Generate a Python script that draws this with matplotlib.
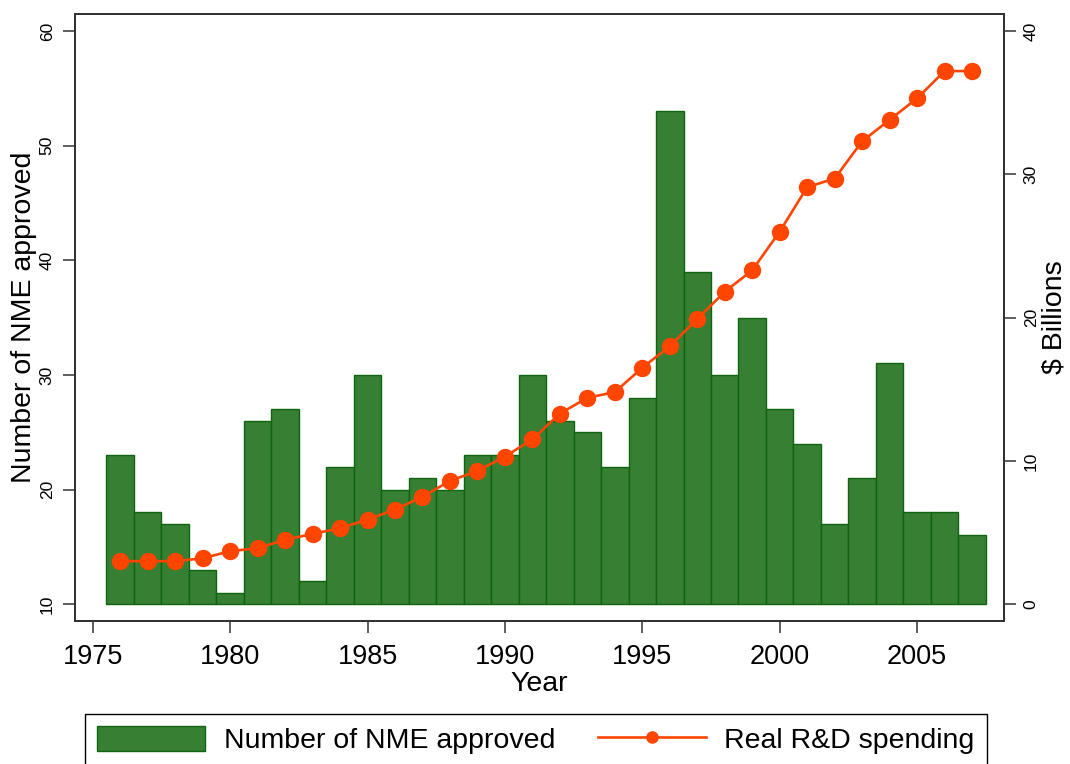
import matplotlib
matplotlib.use("Agg")
import matplotlib.pyplot as plt
from matplotlib.lines import Line2D
from matplotlib.patches import Patch

plt.rcParams['font.family'] = ['Liberation Sans', 'DejaVu Sans']

# Data
years = list(range(1976, 2008))
nme_approved = [23, 18, 17, 13, 11, 26, 27, 12, 22, 30, 20, 21, 20, 23, 23, 30,
                26, 25, 22, 28, 53, 39, 30, 35, 27, 24, 17, 21, 31, 18, 18, 16]
rd_spending = [3.0, 3.0, 3.0, 3.2, 3.7, 3.9, 4.5, 4.9, 5.3, 5.9, 6.6, 7.5, 8.6, 9.3,
               10.3, 11.5, 13.3, 14.4, 14.8, 16.5, 18.0, 19.9, 21.8, 23.3, 26.0,
               29.1, 29.7, 32.3, 33.8, 35.3, 37.2, 37.2]
x_ticks = [1975, 1980, 1985, 1990, 1995, 2000, 2005]
left_ticks = [10, 20, 30, 40, 50, 60]
right_ticks = [0, 10, 20, 30, 40]

bar_color = '#367f33'
bar_edge = '#0f640f'
line_color = '#ff4500'
frame_color = '#333333'

fig = plt.figure(figsize=(10.7, 7.64), dpi=100)
ax = fig.add_axes([0.070, 0.187, 0.868, 0.795])

# bars start from 10, the bottom of the left scale
base = 10
ax.bar(years, [v - base for v in nme_approved], bottom=base, width=1.0,
       color=bar_color, edgecolor=bar_edge, linewidth=1.0)
ax.set_xlim(1974.35, 2008.15)
ax.set_ylim(8.52, 61.5)
ax.set_xticks(x_ticks)
ax.set_yticks(left_ticks)

ax2 = ax.twinx()
ax2.plot(years, rd_spending, color=line_color, linewidth=1.9, marker='o',
         markersize=11.5, markeredgecolor=line_color)
ax2.set_ylim((8.52 - base) * 0.8, (61.5 - base) * 0.8)
ax2.set_yticks(right_ticks)

for a in (ax, ax2):
    for s in a.spines.values():
        s.set_color(frame_color)
        s.set_linewidth(1.4)
    a.tick_params(direction='out', length=8.5, width=1.1, color=frame_color)

ax.tick_params(axis='x', labelsize=19.5, pad=8)
ax.tick_params(axis='y', labelsize=12.5, pad=6)
ax2.tick_params(axis='y', labelsize=12.5, pad=6)
plt.setp(ax.get_yticklabels(), rotation=90, va='center')
plt.setp(ax2.get_yticklabels(), rotation=90, va='center')

ax.set_xlabel('Year', fontsize=20.5, labelpad=1)
ax.set_ylabel('Number of NME approved', fontsize=20.5, labelpad=2)
ax2.set_ylabel('$ Billions', fontsize=20.5, labelpad=2)

handles = [
    Patch(facecolor=bar_color, edgecolor=bar_edge, linewidth=1.0),
    Line2D([0], [0], color=line_color, linewidth=1.9, marker='o',
           markersize=8, markeredgecolor=line_color),
]
labels = ['Number of NME approved', 'Real R&D spending']
leg = fig.legend(handles, labels, loc='upper left', ncol=2,
                 bbox_to_anchor=(85 / 1070, 1 - 714 / 764),
                 fontsize=20.5, frameon=True, fancybox=False,
                 edgecolor='black', framealpha=1,
                 handlelength=3.8, handleheight=1.0, handletextpad=0.65,
                 columnspacing=1.5, borderpad=0.42, borderaxespad=0)
leg.get_frame().set_linewidth(1.0)

fig.savefig('out.png', dpi=100, facecolor='white')
